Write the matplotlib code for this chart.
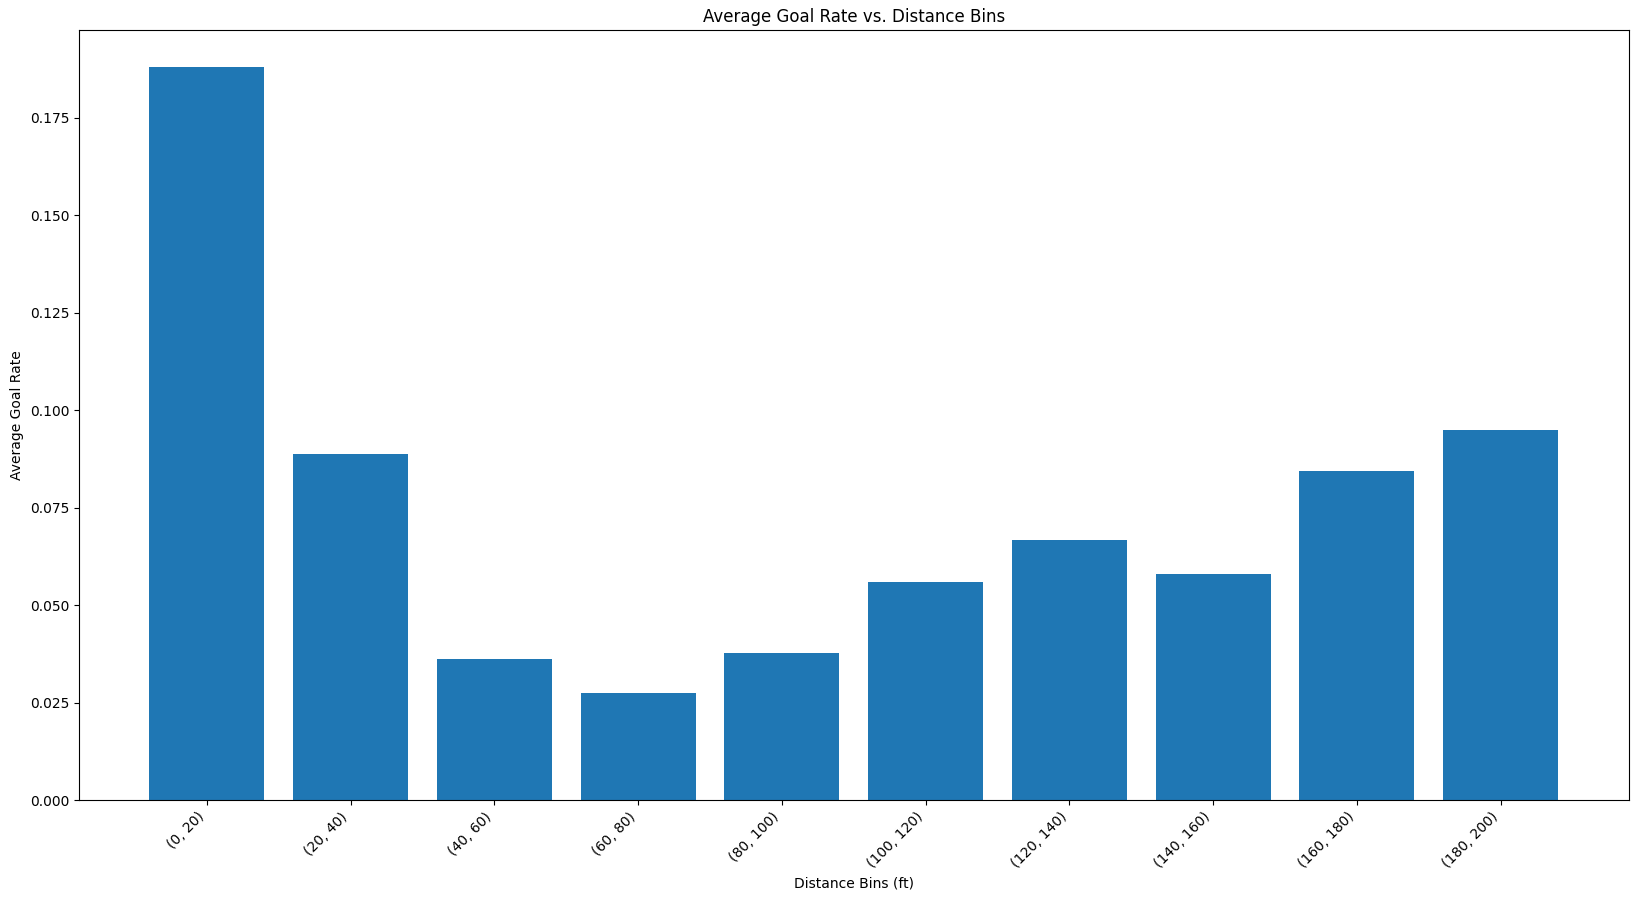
import matplotlib
matplotlib.use("Agg")
import matplotlib.pyplot as plt

categories = ["(0, 20)", "(20, 40)", "(40, 60)", "(60, 80)", "(80, 100)",
              "(100, 120)", "(120, 140)", "(140, 160)", "(160, 180)", "(180, 200)"]
goal_rates = [0.1881, 0.0888, 0.0362, 0.0275, 0.0377, 0.0559, 0.0667, 0.0580, 0.0844, 0.0950]

fig = plt.figure(figsize=(16.39, 9.01), dpi=100)
ax = fig.add_axes([79/1639, 1 - 800/901, (1628.6 - 79)/1639, (800 - 30)/901])
ax.bar(range(len(categories)), goal_rates, color="#1f77b4")
ax.set_xticks(range(len(categories)))
ax.set_xticklabels(categories, rotation=45, ha="right")
ax.set_xlabel("Distance Bins (ft)")
ax.set_ylabel("Average Goal Rate")
ax.set_title("Average Goal Rate vs. Distance Bins")
fig.savefig("out.png", dpi=100)
